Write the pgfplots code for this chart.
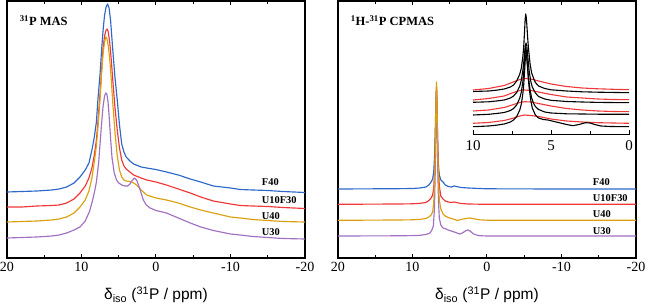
\documentclass[border=0pt]{standalone}
\usepackage{fontspec}
\setmainfont{Liberation Serif}
\setsansfont{Liberation Sans}
\usepackage{pgfplots}
\pgfplotsset{compat=1.18}
\definecolor{cblue}{RGB}{45,105,200}
\definecolor{cred}{RGB}{240,55,55}
\definecolor{corange}{RGB}{218,160,15}
\definecolor{cpurple}{RGB}{160,112,195}
\tikzset{lab/.style={font=\fontsize{10.4}{10.4}\selectfont\bfseries, anchor=west, inner sep=0pt}}
\pgfplotsset{
  mainax/.style={
    scale only axis, width=298pt, height=257pt,
    anchor=south west,
    x dir=reverse, xmin=-20, xmax=20, ymin=0, ymax=257,
    xtick={20,10,0,-10,-20}, xticklabels={20,10,0,-10,-20},
    minor xtick={15,5,-5,-15},
    ytick=\empty,
    tick align=inside,
    major tick length=4pt, minor tick length=3pt,
    axis line style={line width=1.3pt},
    tick style={line width=1pt, black},
    xticklabel style={font=\fontsize{14}{14}\selectfont, yshift=-1pt},
    xlabel={\sffamily δ\textsubscript{iso} (\textsuperscript{31}P / ppm)},
    xlabel style={font=\fontsize{15.5}{15.5}\selectfont, at={(axis description cs:0.5,-0.142)}, anchor=center},
    every axis plot/.append style={line width=1.15pt, line join=round},
    clip=true,
  },
}
\begin{document}
\begin{tikzpicture}
\useasboundingbox (0,0) rectangle (646pt,303pt);
% ---------------- left panel ----------------
\begin{axis}[mainax, at={(7pt,45pt)}]
\addplot[cblue] coordinates {(20,66)(18,66.5)(16,67)(14,68)(13,69)(12,71)(11,75)(10.2,81)(9.5,88)(9,95)(8.6,108)(8.3,120)(8,136)(7.8,158)(7.5,185)(7.3,208)(7.1,228)(6.9,243)(6.7,251)(6.5,254)(6.3,250)(6.1,238)(5.8,208)(5.5,180)(5.2,158)(4.9,133)(4.6,114)(4.3,106)(4,101)(3.5,97)(3,94)(2,91)(1.25,90)(0,88.5)(-1.4,86)(-3,83)(-4.6,79)(-6,76)(-7.7,72)(-10,70)(-11.3,68.5)(-13,68)(-15,67.5)(-17,66.5)(-20,65.5)};
\addplot[cred] coordinates {(20,51)(18,51)(16,52)(14,52.5)(13,53)(12,55)(11,59)(10.2,65)(9.5,72)(9,80)(8.6,90)(8.3,102)(8,118)(7.8,135)(7.5,165)(7.3,188)(7.1,210)(6.9,222)(6.7,228)(6.55,229)(6.4,226)(6.2,215)(6,198)(5.8,178)(5.5,150)(5.2,128)(4.9,110)(4.6,98)(4.3,92)(4,89)(3.5,86)(3,83)(2,80)(1.25,78)(0,76)(-1.4,73)(-3,69)(-4.6,65)(-6,61)(-7.7,57)(-10,54)(-11.3,52.5)(-13,52)(-15,51.5)(-17,50.5)(-20,49.5)};
\addplot[corange] coordinates {(20,36)(18,36.5)(16,37)(14,38)(13,39)(12,41)(11,45)(10.2,51)(9.5,58)(9,67)(8.6,80)(8.3,95)(8,112)(7.8,130)(7.5,160)(7.3,185)(7.1,205)(6.9,216)(6.75,221)(6.6,220)(6.4,212)(6.2,198)(6,178)(5.8,155)(5.5,125)(5.2,102)(4.9,88)(4.6,81)(4.3,78)(4,77)(3.5,76.5)(3,75)(2.6,73)(2,68)(1.25,63)(0,60)(-1.4,58)(-3,55)(-4.6,51)(-6,48)(-7.7,45)(-10,41)(-11.3,40)(-13,38.5)(-15,37.5)(-17,36.5)(-20,36)};
\addplot[cpurple] coordinates {(20,20)(18,20.5)(16,21)(14,22)(13,23)(12,25)(11,28)(10.2,31)(9.5,37)(8.9,47)(8.5,58)(8.2,68)(8,76)(7.7,95)(7.5,115)(7.3,135)(7.1,152)(6.9,162)(6.75,165)(6.6,164)(6.45,157)(6.3,143)(6.1,120)(5.9,100)(5.6,85)(5.3,78)(5,75)(4.6,73)(4.2,72)(3.8,72)(3.5,74)(3.2,77.5)(2.9,80)(2.6,78)(2.3,72)(2,65)(1.7,58)(1.3,53)(0.8,50)(0,47.5)(-1.4,45)(-3,40)(-4.6,35)(-6,31)(-7.7,27.5)(-10,24)(-11.3,23)(-13,21.5)(-15,20.5)(-17,19.5)(-20,19)};
\node[lab] at (axis cs:-14.2,76) {F40};
\node[lab] at (axis cs:-14.2,58) {U10F30};
\node[lab] at (axis cs:-14.2,42.3) {U40};
\node[lab] at (axis cs:-14.2,26.3) {U30};
\node[font=\fontsize{12.5}{12.5}\selectfont\bfseries, anchor=west, inner sep=0pt] at (axis cs:18.3,237.3) {\textsuperscript{31}P MAS};
\end{axis}
% ---------------- right panel ----------------
\begin{axis}[mainax, at={(338pt,45pt)}]
\addplot[cblue] coordinates {(20,69)(12,69.3)(10,69.5)(9,70)(8.2,71)(7.8,73)(7.5,76)(7.3,79)(7.15,86)(7.05,100)(6.95,125)(6.88,150)(6.82,165)(6.78,168)(6.74,160)(6.68,135)(6.6,108)(6.5,90)(6.4,83)(6.2,78)(5.9,76)(5.6,73)(5.2,71.5)(4.8,71)(4.4,72)(4.1,71.5)(3.5,70.5)(2.5,70)(1,69.5)(0,69.2)(-10,69)(-20,69)};
\addplot[cred] coordinates {(20,53.7)(12,54)(10,54.2)(9,54.7)(8.2,55.5)(7.8,57.5)(7.5,60)(7.3,63)(7.15,70)(7.05,85)(6.95,112)(6.88,140)(6.82,162)(6.78,172)(6.74,165)(6.68,140)(6.6,110)(6.5,88)(6.4,72)(6.2,62)(5.9,59)(5.6,57)(5.2,56)(4.8,55.5)(4.4,56)(4.1,55.5)(3.5,54.5)(2.5,54)(1,53.8)(0,53.7)(-20,53.7)};
\addplot[cpurple] coordinates {(20,22)(12,22.2)(10,22.4)(9,22.7)(8.2,23.5)(7.65,25)(7.4,28)(7.2,32)(7.05,50)(6.95,85)(6.88,125)(6.82,152)(6.78,160)(6.74,150)(6.68,120)(6.6,85)(6.5,55)(6.4,40)(6.2,33)(5.9,30)(5.5,29)(5.2,28)(4.8,27)(4.2,25.5)(3.7,24)(3.3,25)(2.8,27.5)(2.5,28)(2.2,26.5)(1.8,24)(1.4,23)(1,22.3)(0,22)(-20,22)};
\addplot[corange] coordinates {(20,37.7)(12,38)(10,38.2)(9,38.6)(8.2,39.5)(7.8,41)(7.5,43)(7.3,46)(7.15,55)(7.05,75)(6.95,105)(6.88,140)(6.82,165)(6.78,176)(6.74,168)(6.68,140)(6.6,105)(6.5,75)(6.4,58)(6.2,49)(5.9,44)(5.6,42)(5.2,40.5)(4.8,39.5)(4.3,38.5)(4,37.5)(3.5,38.5)(3,39.3)(2.3,40)(1.6,39)(1,38.2)(0,37.8)(-20,37.7)};
\node[lab] at (axis cs:-14.2,75.7) {F40};
\node[lab] at (axis cs:-14.2,59.7) {U10F30};
\node[lab] at (axis cs:-14.2,44) {U40};
\node[lab] at (axis cs:-14.2,27.3) {U30};
\node[font=\fontsize{12.5}{12.5}\selectfont\bfseries, anchor=west, inner sep=0pt] at (axis cs:18.3,237.3) {\textsuperscript{1}H-\textsuperscript{31}P CPMAS};
\end{axis}
% ---------------- inset ----------------
\begin{axis}[scale only axis, width=156pt, height=135pt, anchor=south west, at={(473pt,168pt)},
  x dir=reverse, xmin=0, xmax=10, ymin=0, ymax=135,
  axis x line=bottom, axis y line=none, axis line style={-, line width=1pt},
  xtick={10,5,0}, xticklabels={10,5,0}, minor xtick={7.5,2.5},
  tick align=inside, major tick length=5pt, minor tick length=4pt,
  tick style={line width=0.9pt, black},
  xticklabel style={font=\fontsize{15}{15}\selectfont, yshift=-2pt},
  every axis plot/.append style={line width=1.1pt, line join=round},
  clip=false]
\addplot[cred] coordinates {(10,45)(9,46.5)(8,49.5)(7.5,52.5)(7,55.5)(6.7,56.5)(6.3,56)(5.8,54)(5,51)(4,48.5)(3,47)(2,46.2)(1,45.7)(0,45.3)};
\addplot[cred] coordinates {(10,35)(9,36.5)(8,39)(7.5,42)(7,44.5)(6.7,45)(6.3,44.5)(5.8,43)(5,40.5)(4,38)(3,37)(2,36)(1,35.5)(0,35.3)};
\addplot[cred] coordinates {(10,24)(9,25)(8,27.5)(7.5,30)(7,32.5)(6.7,33.3)(6.3,33)(5.8,31.5)(5,29)(4,26.5)(3,25)(2,24)(1,23.5)(0,23.3)};
\addplot[cred] coordinates {(10,11.7)(9,12.5)(8,14.5)(7.5,16.5)(7,19)(6.7,20)(6.3,19.5)(5.8,18.5)(5,16)(4,14)(3,13)(2,12.3)(1,12)(0,11.7)};
\addplot[black] coordinates {(10,43.5)(9,44)(8.5,44.8)(8,46)(7.6,48)(7.4,50)(7.2,54)(7.0,61)(6.9,67)(6.8,79)(6.75,88)(6.7,102)(6.66,115)(6.62,121)(6.58,117)(6.54,108)(6.49,96)(6.44,86)(6.34,71)(6.24,62)(6.1,56)(6.0,52.5)(5.8,49)(5.4,46.5)(5,45.2)(4,44)(3,43.2)(2,42.8)(0,42.3)};
\addplot[black] coordinates {(10,32.7)(9,33.2)(8.5,34)(8,35)(7.6,37)(7.4,39)(7.2,42.5)(7,49)(6.9,55)(6.8,65)(6.75,72)(6.7,81)(6.65,89)(6.6,92)(6.55,89)(6.5,81)(6.45,72)(6.4,64)(6.3,54)(6.2,48)(6.0,42)(5.8,38.5)(5.4,36)(5,34.7)(4,33.5)(3,33)(2,32.6)(0,32.3)};
\addplot[black] coordinates {(10,20)(9,20.7)(8.5,21.5)(8,22.5)(7.6,24.5)(7.4,26.5)(7.2,30)(7,37)(6.9,43)(6.8,54)(6.75,62)(6.7,73)(6.66,83)(6.62,88)(6.58,84)(6.54,76)(6.49,66)(6.44,57)(6.34,45)(6.24,37)(6.1,31)(6.0,28.5)(5.8,25.5)(5.4,23)(5,22)(4,21.2)(3,21)(2,20.8)(0,20.7)};
\addplot[black] coordinates {(10,8.3)(9,9)(8.5,9.8)(8,11)(7.6,13)(7.4,15)(7.2,18.5)(7,25)(6.9,31)(6.8,42)(6.75,50)(6.7,62)(6.65,75)(6.6,82)(6.55,77)(6.5,67)(6.45,56)(6.4,47)(6.3,35)(6.2,27)(6.0,20)(5.8,17)(5.5,15.5)(5.2,15)(4.8,13.5)(4.4,12)(4,10.5)(3.6,9.3)(3.2,10.5)(2.8,12.3)(2.5,12)(2.2,10.5)(1.8,9)(1.2,8.5)(0,8.3)};
\end{axis}
\end{tikzpicture}
\end{document}
